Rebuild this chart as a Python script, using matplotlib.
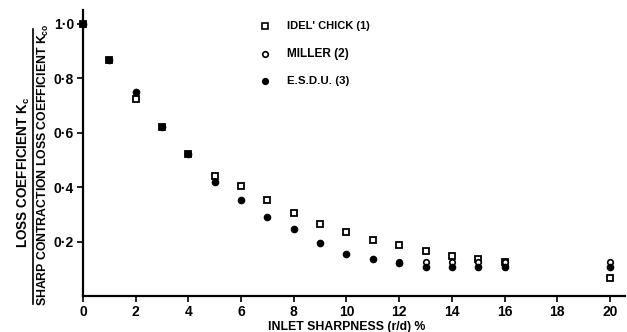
import matplotlib
matplotlib.use("Agg")
import matplotlib.pyplot as plt

# Data
idel_x = [0, 1, 2, 3, 4, 5, 6, 7, 8, 9, 10, 11, 12, 13, 14, 15, 16, 20]
idel_y = [1.0, 0.865, 0.722, 0.621, 0.521, 0.440, 0.404, 0.352, 0.306, 0.264,
          0.236, 0.206, 0.186, 0.164, 0.147, 0.135, 0.126, 0.065]

miller_x = [12, 13, 14, 15, 16, 20]
miller_y = [0.124, 0.126, 0.125, 0.125, 0.126, 0.124]

esdu_x = [0, 1, 2, 3, 4, 5, 6, 7, 8, 9, 10, 11, 12, 13, 14, 15, 16, 20]
esdu_y = [1.0, 0.866, 0.750, 0.621, 0.521, 0.419, 0.352, 0.291, 0.245, 0.196,
          0.154, 0.136, 0.122, 0.108, 0.108, 0.108, 0.108, 0.105]

x_ticks = [0, 2, 4, 6, 8, 10, 12, 14, 16, 18, 20]
y_ticks = [0.2, 0.4, 0.6, 0.8, 1.0]
y_tick_labels = ["0·2", "0·4", "0·6", "0·8", "1·0"]

FAM = ["Liberation Sans", "DejaVu Sans"]
plt.rcParams["font.family"] = FAM
plt.rcParams["font.weight"] = "bold"
plt.rcParams["mathtext.default"] = "regular"

fig = plt.figure(figsize=(6.27, 3.32), dpi=100)
ax = fig.add_axes([83 / 627, 36 / 332, 542 / 627, 286 / 332])

ax.plot(idel_x, idel_y, linestyle="none", marker="s", markersize=4.0,
        markerfacecolor="white", markeredgecolor="black", markeredgewidth=1.3,
        clip_on=False, zorder=3)
ax.plot(miller_x, miller_y, linestyle="none", marker="o", markersize=4.0,
        markerfacecolor="white", markeredgecolor="black", markeredgewidth=1.2,
        clip_on=False, zorder=3)
ax.plot(esdu_x, esdu_y, linestyle="none", marker="o", markersize=4.5,
        markerfacecolor="black", markeredgecolor="black", clip_on=False, zorder=4)

ax.set_xlim(0, 20.57)
ax.set_ylim(0, 1.05)
for s in ["top", "right"]:
    ax.spines[s].set_visible(False)
for s in ["left", "bottom"]:
    ax.spines[s].set_linewidth(1.6)
    ax.spines[s].set_color("black")

ax.set_xticks(x_ticks)
ax.set_xticklabels([str(v) for v in x_ticks], fontsize=10, fontweight="bold")
ax.set_yticks(y_ticks)
ax.set_yticklabels(y_tick_labels, fontsize=10, fontweight="bold")
ax.tick_params(axis="both", direction="out", length=4, width=1.2, color="black", pad=2.5)

texts_to_fit = []

# Legend (manual, in axes data coords)
leg_items = [("s", "white", "IDEL' CHICK (1)", 80),
             ("o", "white", "MILLER (2)", 60),
             ("o", "black", "E.S.D.U. (3)", 60)]
leg_y = [0.99, 0.89, 0.79]
for (m, fc, label, w), yy in zip(leg_items, leg_y):
    ax.plot([6.9], [yy], linestyle="none", marker=m, markersize=4.0,
            markerfacecolor=fc, markeredgecolor="black", markeredgewidth=1.2,
            clip_on=False)
    t = ax.text(7.75, yy, label, va="center", ha="left", fontsize=9, fontweight="bold")
    texts_to_fit.append((t, w, False))

t = fig.text(347 / 627, 1 - 330 / 332, "INLET SHARPNESS (r/d) %", ha="center", va="baseline",
             fontsize=9, fontweight="bold")
texts_to_fit.append((t, 151, False))

# Two-line fraction y label
t = fig.text(24 / 627, 1 - 172 / 332, "LOSS COEFFICIENT K$_{c}$",
             rotation=90, ha="center", va="center", fontsize=9, fontweight="bold")
texts_to_fit.append((t, 146, True))
t = fig.text(43 / 627, 1 - 165 / 332, "SHARP CONTRACTION LOSS COEFFICIENT K$_{co}$",
             rotation=90, ha="center", va="center", fontsize=9, fontweight="bold")
texts_to_fit.append((t, 271, True))
fig.add_artist(plt.Line2D([33 / 627, 33 / 627], [1 - 304 / 332, 1 - 29 / 332],
                          transform=fig.transFigure, color="black", linewidth=1.2))

# fit text lengths to the reference
fig.canvas.draw()
r = fig.canvas.get_renderer()
for t, w, rot in texts_to_fit:
    bb = t.get_window_extent(renderer=r)
    cur = bb.height if rot else bb.width
    t.set_fontsize(min(11, 1.04 * t.get_fontsize() * w / cur))

fig.savefig("out.png", dpi=100)
